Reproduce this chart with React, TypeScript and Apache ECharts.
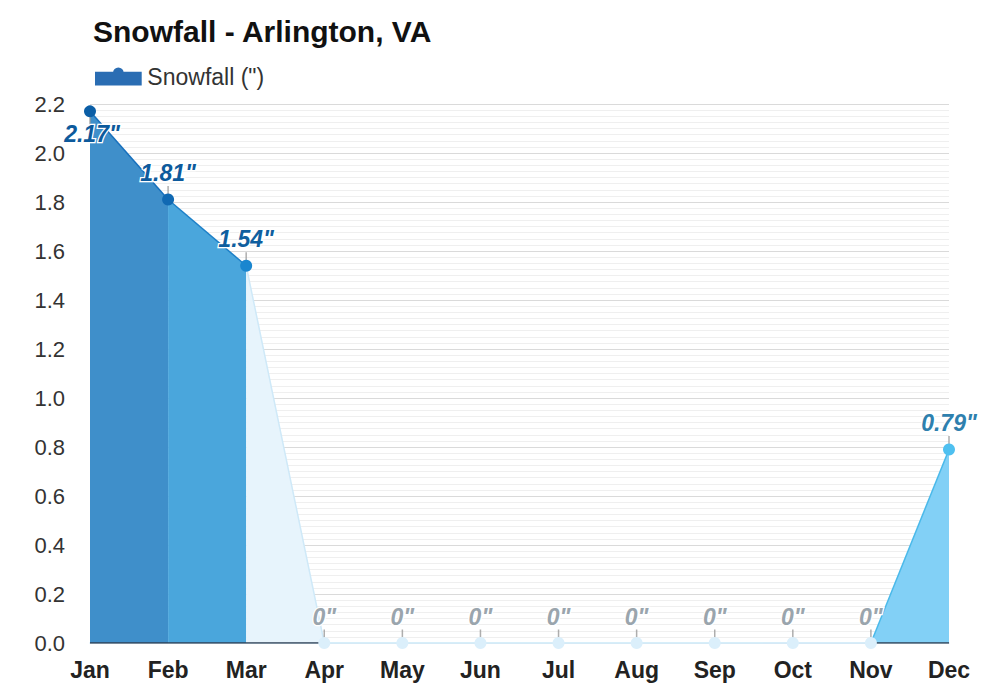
import React, { useEffect, useRef } from "react";
import * as echarts from "echarts";

const months = ["Jan", "Feb", "Mar", "Apr", "May", "Jun", "Jul", "Aug", "Sep", "Oct", "Nov", "Dec"];
const snowfall = [2.17, 1.81, 1.54, 0, 0, 0, 0, 0, 0, 0, 0, 0.79];
const yTicks = { min: 0, max: 2.2, interval: 0.2 };
const seriesName = 'Snowfall (")';
const titleText = "Snowfall - Arlington, VA";

// styles (not data)
const pointColors = ["#0b5ea6", "#1069b3", "#1a86cf", "#dbeffb", "#dbeffb", "#dbeffb", "#dbeffb", "#dbeffb", "#dbeffb", "#dbeffb", "#dbeffb", "#4fc0f0"];
const labelColors = ["#0d5a9c", "#0d5a9c", "#0f5f9f", "#9aa5ad", "#9aa5ad", "#9aa5ad", "#9aa5ad", "#9aa5ad", "#9aa5ad", "#9aa5ad", "#9aa5ad", "#2e80ae"];
const segLineColors = ["#1770bd", "#1d80c8", "#cfe9f8", "#d5ecf9", "#d5ecf9", "#d5ecf9", "#d5ecf9", "#d5ecf9", "#d5ecf9", "#d5ecf9", "#4ab9ea"];
const segAreaColors = ["#3f8fca", "#4aa6dc", "#e7f4fc", "#e7f4fc", "#e7f4fc", "#e7f4fc", "#e7f4fc", "#e7f4fc", "#e7f4fc", "#e7f4fc", "#82d0f6"];

const FONT = 'Arial, "Liberation Sans", Helvetica, sans-serif';
const legendIcon =
  "path://M0,5H48V18H0Z M0,3.8H48V6.2H0Z M18.5,5a5.5,5.5 0 1,1 11,0a5.5,5.5 0 1,1 -11,0Z";

export default function App() {
  const ref = useRef<HTMLDivElement>(null);
  useEffect(() => {
    if (!ref.current) return;
    const chart = echarts.init(ref.current, null, { renderer: "svg" });

    const segSeries = snowfall.slice(0, -1).map((_, i) => {
      const hasArea = Math.max(snowfall[i], snowfall[i + 1]) > 0;
      return {
        type: "line",
        name: "seg" + i,
        data: snowfall.map((v, j) => (j === i || j === i + 1 ? v : null)),
        symbol: "none",
        silent: true,
        z: 2,
        lineStyle: { color: segLineColors[i], width: 1.5 },
        areaStyle: hasArea ? { color: segAreaColors[i], opacity: 1 } : undefined,
      };
    });

    const baseline = snowfall.map((_, j) => {
      const left = j > 0 && Math.max(snowfall[j - 1], snowfall[j]) > 0;
      const right = j < snowfall.length - 1 && Math.max(snowfall[j], snowfall[j + 1]) > 0;
      return left || right ? 0 : null;
    });

    const option: any = {
      animation: false,
      backgroundColor: "#ffffff",
      title: {
        text: titleText,
        left: 88,
        top: 11,
        textStyle: { fontFamily: FONT, fontSize: 30, fontWeight: "bold", color: "#111" },
      },
      legend: {
        left: 90,
        top: 60,
        data: [seriesName],
        icon: legendIcon,
        itemWidth: 48,
        itemHeight: 18,
        textStyle: { fontFamily: FONT, fontSize: 23, color: "#333", padding: [0, 0, 0, 0] },
        itemStyle: { color: "#2a6db3" },
        selectedMode: false,
      },
      grid: { left: 90, right: 51, top: 104, bottom: 57 },
      xAxis: {
        type: "category",
        data: months,
        boundaryGap: false,
        axisTick: { show: false },
        axisLine: { show: true, lineStyle: { color: "#d5ecf9", width: 1.5 } },
        axisLabel: { fontFamily: FONT, fontSize: 23, fontWeight: "bold", color: "#222", margin: 15 },
        splitLine: { show: false },
      },
      yAxis: {
        type: "value",
        min: yTicks.min,
        max: yTicks.max,
        interval: yTicks.interval,
        axisLine: { show: false },
        axisTick: { show: false },
        axisLabel: {
          fontFamily: FONT,
          fontSize: 22,
          color: "#333",
          margin: 25,
          formatter: (v: number) => v.toFixed(1),
        },
        splitLine: { show: true, lineStyle: { color: "#dadada", width: 1 } },
        minorTick: { show: false, splitNumber: 8 },
        minorSplitLine: { show: true, lineStyle: { color: "#efefef", width: 1 } },
      },
      series: [
        ...segSeries,
        {
          type: "line",
          name: "base",
          data: baseline,
          symbol: "none",
          silent: true,
          z: 3,
          lineStyle: { color: "#2f4055", width: 1.5 },
        },
        {
          type: "scatter",
          name: "ticks",
          silent: true,
          z: 4,
          data: snowfall.map((v, j) => ({
            value: v,
            symbolOffset: [0, j === 0 ? 9 : -9],
          })),
          symbol: "rect",
          symbolSize: [1.5, 9],
          itemStyle: { color: "#9a9a9a" },
        },
        {
          type: "line",
          name: seriesName,
          color: "#2a6db3",
          z: 5,
          data: snowfall.map((v, j) => ({
            value: v,
            itemStyle: { color: pointColors[j] },
            label: {
              color: labelColors[j],
              position: j === 0 ? "bottom" : "top",
              distance: j === 0 ? 5 : 9,
              offset: j === 0 ? [2, 0] : [0, 0],
            },
          })),
          symbol: "circle",
          symbolSize: 12,
          lineStyle: { opacity: 0, width: 0 },
          label: {
            show: true,
            formatter: (p: any) => `${p.value}"`,
            fontFamily: FONT,
            fontSize: 23,
            fontWeight: "bold",
            fontStyle: "italic",
            textBorderColor: "#fff",
            textBorderWidth: 2.5,
          },
        },
      ],
    };
    chart.setOption(option);
    return () => chart.dispose();
  }, []);
  return <div ref={ref} style={{ width: 1000, height: 700, position: "absolute", left: 0, top: 0 }} />;
}
